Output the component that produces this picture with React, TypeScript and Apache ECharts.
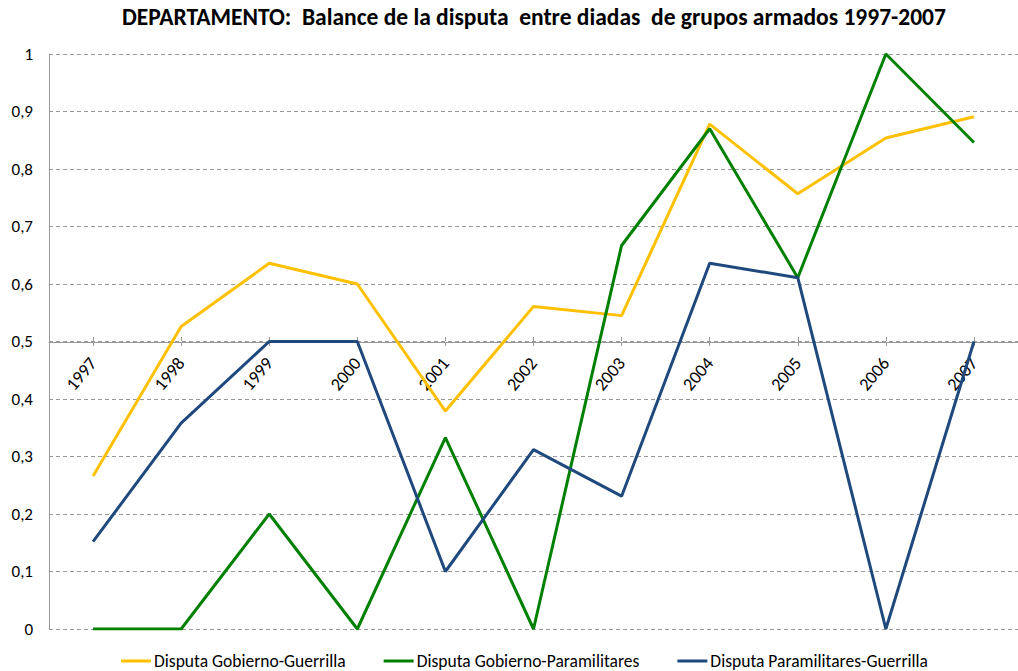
import React, { useEffect, useRef } from "react";
import * as echarts from "echarts";

const years = ["1997", "1998", "1999", "2000", "2001", "2002", "2003", "2004", "2005", "2006", "2007"];
const gobiernoGuerrilla = [0.266, 0.526, 0.636, 0.6, 0.379, 0.561, 0.545, 0.878, 0.757, 0.854, 0.891];
const gobiernoParamilitares = [0, 0, 0.2, 0, 0.333, 0, 0.667, 0.87, 0.611, 1, 0.846];
const paramilitaresGuerrilla = [0.152, 0.358, 0.5, 0.5, 0.1, 0.312, 0.231, 0.636, 0.611, 0, 0.5];
const seriesNames = [
  "Disputa Gobierno-Guerrilla",
  "Disputa Gobierno-Paramilitares",
  "Disputa Paramilitares-Guerrilla",
];
const titleText = "DEPARTAMENTO:  Balance de la disputa  entre diadas  de grupos armados 1997-2007";

const FONT = "Carlito, 'Liberation Sans Narrow', 'Noto Sans', sans-serif";

export default function App() {
  const ref = useRef<HTMLDivElement>(null);
  useEffect(() => {
    document.body.style.margin = "0";
    const chart = echarts.init(ref.current!, null, { renderer: "svg" });
    const colors = ["#FFC000", "#008000", "#1F497D"];
    const datasets = [gobiernoGuerrilla, gobiernoParamilitares, paramilitaresGuerrilla];
    chart.setOption({
      animation: false,
      color: colors,
      title: {
        text: titleText,
        left: 117,
        top: 0,
        textStyle: { fontFamily: FONT, fontSize: 23.5, fontWeight: "bold", color: "#000" },
      },
      legend: {
        left: 116,
        bottom: -4,
        itemWidth: 30,
        itemHeight: 3,
        itemGap: 38,
        icon: "rect",
        textStyle: { fontFamily: FONT, fontSize: 17.5, color: "#000", padding: [0, 0, 0, -2] },
        data: seriesNames,
      },
      grid: { left: 49, top: 54, bottom: 42, width: 979, containLabel: false },
      xAxis: [
        {
          type: "category",
          data: years,
          boundaryGap: true,
          position: "bottom",
          offset: -288,
          axisLine: { show: true, lineStyle: { color: "#999", width: 1 } },
          axisTick: { show: true, alignWithLabel: true, length: 4, lineStyle: { color: "#999" } },
          axisLabel: {
            rotate: 50,
            margin: 19,
            fontFamily: FONT,
            fontSize: 18,
            color: "#000",
          },
          splitLine: { show: false },
        },
        {
          type: "category",
          data: years,
          boundaryGap: true,
          position: "bottom",
          offset: -288,
          axisLine: { show: false },
          axisTick: { show: true, inside: true, alignWithLabel: true, length: 4, lineStyle: { color: "#999" } },
          axisLabel: { show: false },
          splitLine: { show: false },
        },
      ],
      yAxis: {
        type: "value",
        min: 0,
        max: 1,
        interval: 0.1,
        axisLine: { show: true, lineStyle: { color: "#999", width: 1 } },
        axisTick: { show: false },
        axisLabel: {
          margin: 16,
          fontFamily: FONT,
          fontSize: 17,
          color: "#000",
          formatter: (v: number) => String(Math.round(v * 10) / 10).replace(".", ","),
        },
        splitLine: { show: true, lineStyle: { color: "#999", type: [4, 3], width: 1 } },
      },
      series: seriesNames.map((name, i) => ({
        name,
        type: "line",
        xAxisIndex: 0,
        data: datasets[i],
        symbol: "none",
        lineStyle: { width: 3, color: colors[i] },
        itemStyle: { color: colors[i] },
      })),
    });
    return () => chart.dispose();
  }, []);
  return <div ref={ref} style={{ width: 1018, height: 671 }} />;
}
